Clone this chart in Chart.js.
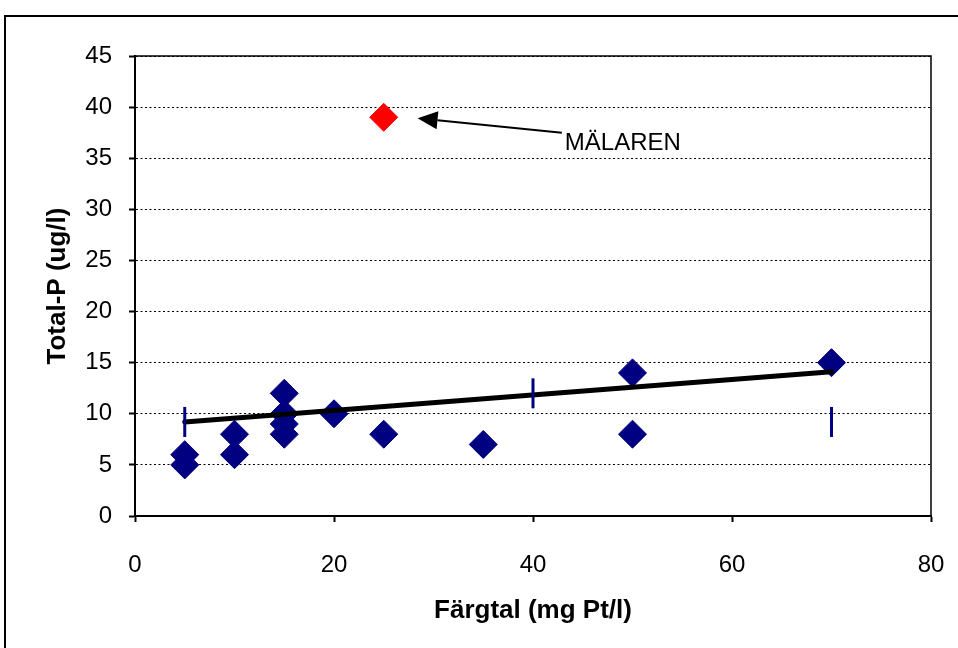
<!DOCTYPE html>
<html>
<head>
<meta charset="utf-8">
<script src="https://cdn.jsdelivr.net/npm/chart.js@4.4.1/dist/chart.umd.min.js"></script>
<style>
  html, body { margin: 0; padding: 0; background: #ffffff; }
  #wrap { width: 958px; height: 648px; position: relative; }
</style>
</head>
<body>
<div id="wrap"><canvas id="c" width="958" height="648"></canvas></div>
<script>
// Lake samples: colour (mg Pt/l) against total phosphorus (ug/l)
const fargtal = [5, 5, 10, 10, 15, 15, 15, 15, 20, 25, 35, 50, 50, 70];
const totalP  = [5, 6, 6, 8, 8, 9, 10, 12, 10, 8, 7, 8, 14, 15];

// Lake Mälaren, highlighted separately
const malarenX = [25];
const malarenY = [39];

// Trend line end points
const trendX = [5, 70];
const trendY = [9.2, 14.1];

// Short vertical dash markers
const dashX = [5, 40, 70];
const dashY = [9.2, 12.0, 9.2];

// Axis ticks
const xTicks = [0, 20, 40, 60, 80];
const yTicks = [0, 5, 10, 15, 20, 25, 30, 35, 40, 45];

// Annotation: label text and arrow (in data units)
const labelText = 'MÄLAREN';
const labelPos = { x: 43.2, y: 36.5 };
const arrowFrom = { x: 42.9, y: 37.5 };
const arrowTo = { x: 28.4, y: 38.9 };

const FONT = '"Liberation Sans", Arial, sans-serif';
const NAVY = '#000080';

const toPts = (xs, ys) => xs.map((x, i) => ({ x, y: ys[i] }));

const frame = {
  id: 'frame',
  beforeDraw(chart) {
    const ctx = chart.ctx;
    ctx.save();
    ctx.fillStyle = '#ffffff';
    ctx.fillRect(0, 0, chart.width, chart.height);
    ctx.strokeStyle = '#000000';
    ctx.lineWidth = 2;
    ctx.strokeRect(5, 16, chart.width + 20, chart.height + 20);
    ctx.restore();
  },
  afterDraw(chart) {
    const { ctx, chartArea: a, scales } = chart;
    ctx.save();
    // plot box top and right edges
    ctx.strokeStyle = '#000000';
    ctx.lineWidth = 1.5;
    ctx.beginPath();
    ctx.moveTo(a.left, a.top);
    ctx.lineTo(a.right, a.top);
    ctx.lineTo(a.right, a.bottom);
    ctx.stroke();

    // arrow pointing at Mälaren
    const x0 = scales.x.getPixelForValue(arrowFrom.x);
    const y0 = scales.y.getPixelForValue(arrowFrom.y);
    const x1 = scales.x.getPixelForValue(arrowTo.x);
    const y1 = scales.y.getPixelForValue(arrowTo.y);
    const ang = Math.atan2(y1 - y0, x1 - x0);
    const headLen = 20, headHalf = 9;
    const bx = x1 - headLen * Math.cos(ang);
    const by = y1 - headLen * Math.sin(ang);
    ctx.lineWidth = 2;
    ctx.beginPath();
    ctx.moveTo(x0, y0);
    ctx.lineTo(bx, by);
    ctx.stroke();
    ctx.fillStyle = '#000000';
    ctx.beginPath();
    ctx.moveTo(x1, y1);
    ctx.lineTo(bx + headHalf * Math.sin(ang), by - headHalf * Math.cos(ang));
    ctx.lineTo(bx - headHalf * Math.sin(ang), by + headHalf * Math.cos(ang));
    ctx.closePath();
    ctx.fill();

    // label
    ctx.font = '24px ' + FONT;
    ctx.textAlign = 'left';
    ctx.textBaseline = 'middle';
    ctx.fillText(labelText, scales.x.getPixelForValue(labelPos.x), scales.y.getPixelForValue(labelPos.y));
    ctx.restore();
  }
};

new Chart(document.getElementById('c'), {
  type: 'scatter',
  data: {
    datasets: [
      {
        label: 'Dash',
        data: toPts(dashX, dashY),
        pointStyle: 'line',
        rotation: 90,
        pointRadius: 15,
        borderColor: NAVY,
        borderWidth: 3,
        backgroundColor: NAVY,
        order: 1
      },
      {
        label: 'Trend',
        data: toPts(trendX, trendY),
        showLine: true,
        borderColor: '#000000',
        borderWidth: 5,
        borderCapStyle: 'round',
        pointRadius: 0,
        order: 2
      },
      {
        label: 'Sjöar',
        data: toPts(fargtal, totalP),
        pointStyle: 'rectRot',
        pointRadius: 14,
        backgroundColor: NAVY,
        borderColor: NAVY,
        borderWidth: 1,
        order: 3
      },
      {
        label: 'Mälaren',
        data: toPts(malarenX, malarenY),
        pointStyle: 'rectRot',
        pointRadius: 14,
        backgroundColor: '#ff0000',
        borderColor: '#ff0000',
        borderWidth: 1,
        order: 3
      }
    ]
  },
  options: {
    responsive: false,
    animation: false,
    events: [],
    layout: { padding: { left: 0, right: 27, top: 56, bottom: 0 } },
    plugins: { legend: { display: false }, tooltip: { enabled: false } },
    scales: {
      x: {
        type: 'linear',
        min: xTicks[0],
        max: xTicks[xTicks.length - 1],
        afterFit(s) { s.height = 132; s.paddingLeft = 0; s.paddingRight = 0; },
        afterBuildTicks(s) { s.ticks = xTicks.map(v => ({ value: v })); },
        ticks: { color: '#000000', padding: 29, font: { family: FONT, size: 24 } },
        grid: { drawOnChartArea: false, drawTicks: true, tickLength: 6, tickColor: '#000000', tickWidth: 2 },
        border: { display: true, color: '#000000', width: 2 },
        title: {
          display: true,
          text: 'Färgtal (mg Pt/l)',
          color: '#000000',
          font: { family: FONT, size: 26, weight: 'bold' },
          padding: { top: 0, bottom: 22 }
        }
      },
      y: {
        type: 'linear',
        min: yTicks[0],
        max: yTicks[yTicks.length - 1],
        afterFit(s) { s.width = 135; s.paddingTop = 0; s.paddingBottom = 0; },
        afterBuildTicks(s) { s.ticks = yTicks.map(v => ({ value: v })); },
        ticks: { color: '#000000', padding: 17, font: { family: FONT, size: 24 } },
        grid: {
          drawOnChartArea: true, drawTicks: true, tickLength: 6,
          color: '#000000', lineWidth: 1,
          tickColor: '#000000', tickWidth: 2, tickBorderDash: []
        },
        border: { display: true, color: '#000000', width: 2, dash: [2, 2.5] },
        title: {
          display: true,
          text: 'Total-P (ug/l)',
          color: '#000000',
          font: { family: FONT, size: 26, weight: 'bold' },
          padding: { top: 42, bottom: 0 }
        }
      }
    }
  },
  plugins: [frame]
});
</script>
</body>
</html>
